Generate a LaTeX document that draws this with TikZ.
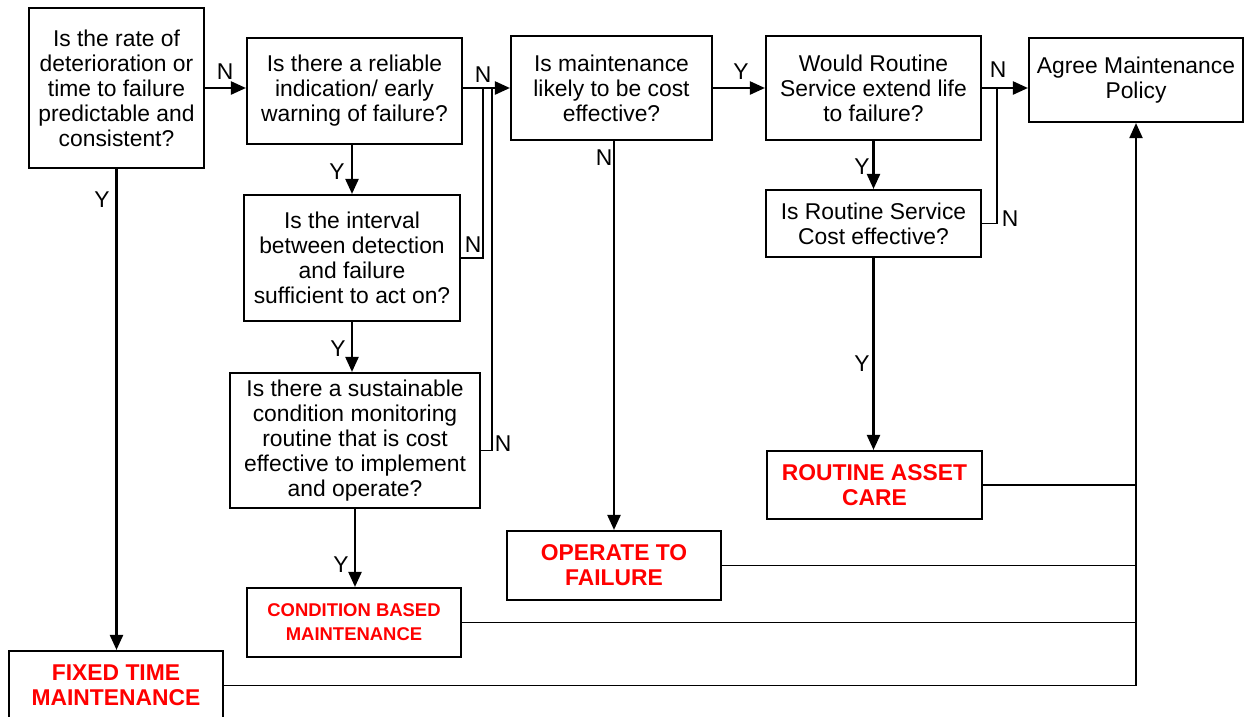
\documentclass[tikz,border=0pt]{standalone}
\usepackage{fontspec}
\setmainfont{Liberation Sans}
\usepackage{xcolor}
\usepackage{tikz}
\usetikzlibrary{arrows.meta,positioning,calc}

\begin{document}
\begin{tikzpicture}[
    block/.style={rectangle, draw, line width=1.2pt, inner sep=0pt, font=\fontsize{13}{14.2}\selectfont, align=center},
    result/.style={block, text=red, font=\fontsize{13}{14.2}\selectfont\bfseries},
    arrow/.style={-{Triangle[length=0.3cm, width=0.26cm]}, line width=1.3pt},
    link/.style={line width=0.9pt},
    lbl/.style={font=\fontsize{13}{14.2}\selectfont, inner sep=0pt}
]
    \useasboundingbox (0,0) rectangle (24.9,-14.34);

    % Questions
    \node[block, minimum width=3.5cm, minimum height=3.2cm] (rate) at (2.33, -1.76) {Is the rate of\\deterioration or\\time to failure\\predictable and\\consistent?};
    \node[block, minimum width=4.3cm, minimum height=2.12cm] (warning) at (7.09, -1.82) {Is there a reliable\\indication/ early\\warning of failure?};
    \node[block, minimum width=4.32cm, minimum height=2.52cm] (interval) at (7.04, -5.16) {Is the interval\\between detection\\and failure\\sufficient to act on?};
    \node[block, minimum width=5.0cm, minimum height=2.7cm] (monitor) at (7.1, -8.81) {Is there a sustainable\\condition monitoring\\routine that is cost\\effective to implement\\and operate?};
    \node[block, minimum width=4.02cm, minimum height=2.08cm] (cost) at (12.23, -1.76) {Is maintenance\\likely to be cost\\effective?};
    \node[block, minimum width=4.3cm, minimum height=2.08cm] (service) at (17.47, -1.76) {Would Routine\\Service extend life\\to failure?};
    \node[block, minimum width=4.3cm, minimum height=1.34cm] (servcost) at (17.47, -4.47) {Is Routine Service\\Cost effective?};

    % Policy
    \node[block, minimum width=4.28cm, minimum height=1.68cm] (policy) at (22.72, -1.6) {Agree Maintenance\\Policy};

    % Outcomes
    \node[result, minimum width=4.3cm, minimum height=1.36cm] (care) at (17.49, -9.7) {ROUTINE ASSET\\CARE};
    \node[result, minimum width=4.28cm, minimum height=1.38cm] (otf) at (12.28, -11.31) {OPERATE TO\\FAILURE};
    \node[result, minimum width=4.28cm, minimum height=1.38cm, font=\fontsize{10.5}{13.6}\selectfont\bfseries] (cbm) at (7.08, -12.45) {CONDITION BASED\\MAINTENANCE};
    \node[result, minimum width=4.28cm, minimum height=1.38cm] (ftm) at (2.32, -13.71) {FIXED TIME\\MAINTENANCE};

    % Junctions
    \coordinate (j1) at (9.66, -1.76);
    \coordinate (j2) at (9.84, -1.76);
    \coordinate (j3) at (19.94, -1.76);

    % Arrows
    \draw[arrow] (rate.east) -- (rate.east -| warning.west);
    \draw[arrow] (warning.east |- cost.west) -- (cost.west);
    \draw[arrow] (cost.east) -- (service.west);
    \draw[arrow] (service.east) -- (service.east -| policy.west);

    \draw[arrow] (interval.north |- warning.south) -- (interval.north);
    \draw[arrow] (interval.south) -- (interval.south |- monitor.north);
    \draw[arrow] (monitor.south) -- (monitor.south |- cbm.north);
    \draw[arrow] (otf.north |- cost.south) -- (otf.north);
    \draw[arrow] (service.south) -- (servcost.north);
    \draw[arrow] (servcost.south) -- (servcost.south |- care.north);
    \draw[arrow] (rate.south) -- (rate.south |- ftm.north);

    % No branches
    \draw[link] (interval.east) -| (j1);
    \draw[link] ([yshift=-0.2cm]monitor.east) -| (j2);
    \draw[link] (servcost.east) -| (j3);

    % Return to policy
    \draw[arrow, line width=1.1pt] (ftm.east) -| (policy.south);
    \draw[link] (care.east) -- (care.east -| policy.south);
    \draw[link] (otf.east) -- (otf.east -| policy.south);
    \draw[link] (cbm.east) -- (cbm.east -| policy.south);

    % Labels
    \node[lbl] (n1) at (4.5, -1.44) {N};
    \node[lbl] (n2) at (9.66, -1.5) {N};
    \node[lbl] (n3) at (9.46, -4.9) {N};
    \node[lbl] (n4) at (10.06, -8.88) {N};
    \node[lbl] (n5) at (12.08, -3.16) {N};
    \node[lbl] (n6) at (19.96, -1.4) {N};
    \node[lbl] (n7) at (20.2, -4.38) {N};
    \node[lbl] (y1) at (14.82, -1.44) {Y};
    \node[lbl] (y2) at (6.74, -3.44) {Y};
    \node[lbl] (y3) at (6.76, -6.98) {Y};
    \node[lbl] (y4) at (6.82, -11.3) {Y};
    \node[lbl] (y5) at (17.24, -3.34) {Y};
    \node[lbl] (y6) at (17.24, -7.28) {Y};
    \node[lbl] (y7) at (2.04, -4.0) {Y};

\end{tikzpicture}
\end{document}
